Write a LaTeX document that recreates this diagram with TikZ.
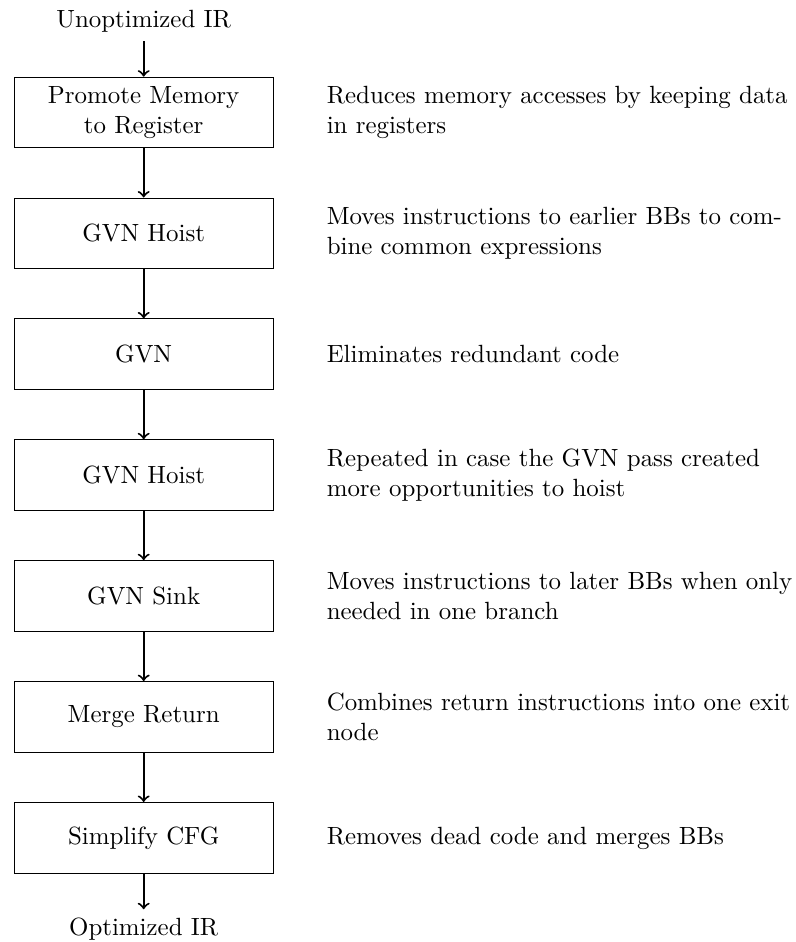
\documentclass[tikz,border=0pt]{standalone}
\usetikzlibrary{positioning}
\begin{document}
\begin{tikzpicture}[
  x=1pt, y=1pt,
  pass/.style={draw, minimum width=104pt, minimum height=1cm, align=center},
  note/.style={anchor=west, text width=188pt, align=left},
  flow/.style={->, thick},
]
\useasboundingbox (0,0) rectangle (319.6,-378.3);

% the chain of passes
\node[pass] (p1) at (57.7,-45.2)   {Promote Memory\\to Register};
\node[pass] (p2) at (57.7,-93.75)  {GVN Hoist};
\node[pass] (p3) at (57.7,-142.3)  {GVN};
\node[pass] (p4) at (57.7,-190.85) {GVN Hoist};
\node[pass] (p5) at (57.7,-239.4)  {GVN Sink};
\node[pass] (p6) at (57.7,-287.95) {Merge Return};
\node[pass] (p7) at (57.7,-336.5)  {Simplify CFG};

% input and output of the pipeline
\node[above=0.5cm of p1] (in)  {Unoptimized IR};
\node[below=0.5cm of p7] (out) {Optimized IR};

% explanations next to each pass
\node[note] (d1) at (127.7,-45.2)   {Reduces memory accesses by keeping data in registers};
\node[note] (d2) at (127.7,-93.75)  {Moves instructions to earlier BBs to com\-bine common expressions};
\node[note] (d3) at (127.7,-142.3)  {Eliminates redundant code};
\node[note] (d4) at (127.7,-190.85) {Repeated in case the GVN pass created more opportunities to hoist};
\node[note] (d5) at (127.7,-239.4)  {Moves instructions to later BBs when only needed in one branch};
\node[note] (d6) at (127.7,-287.95) {Combines return instructions into one exit node};
\node[note] (d7) at (127.7,-336.5)  {Removes dead code and merges BBs};

% connectors
\draw[flow] (in) -- (p1);
\draw[flow] (p1) -- (p2);
\draw[flow] (p2) -- (p3);
\draw[flow] (p3) -- (p4);
\draw[flow] (p4) -- (p5);
\draw[flow] (p5) -- (p6);
\draw[flow] (p6) -- (p7);
\draw[flow] (p7) -- (out);
\end{tikzpicture}
\end{document}
